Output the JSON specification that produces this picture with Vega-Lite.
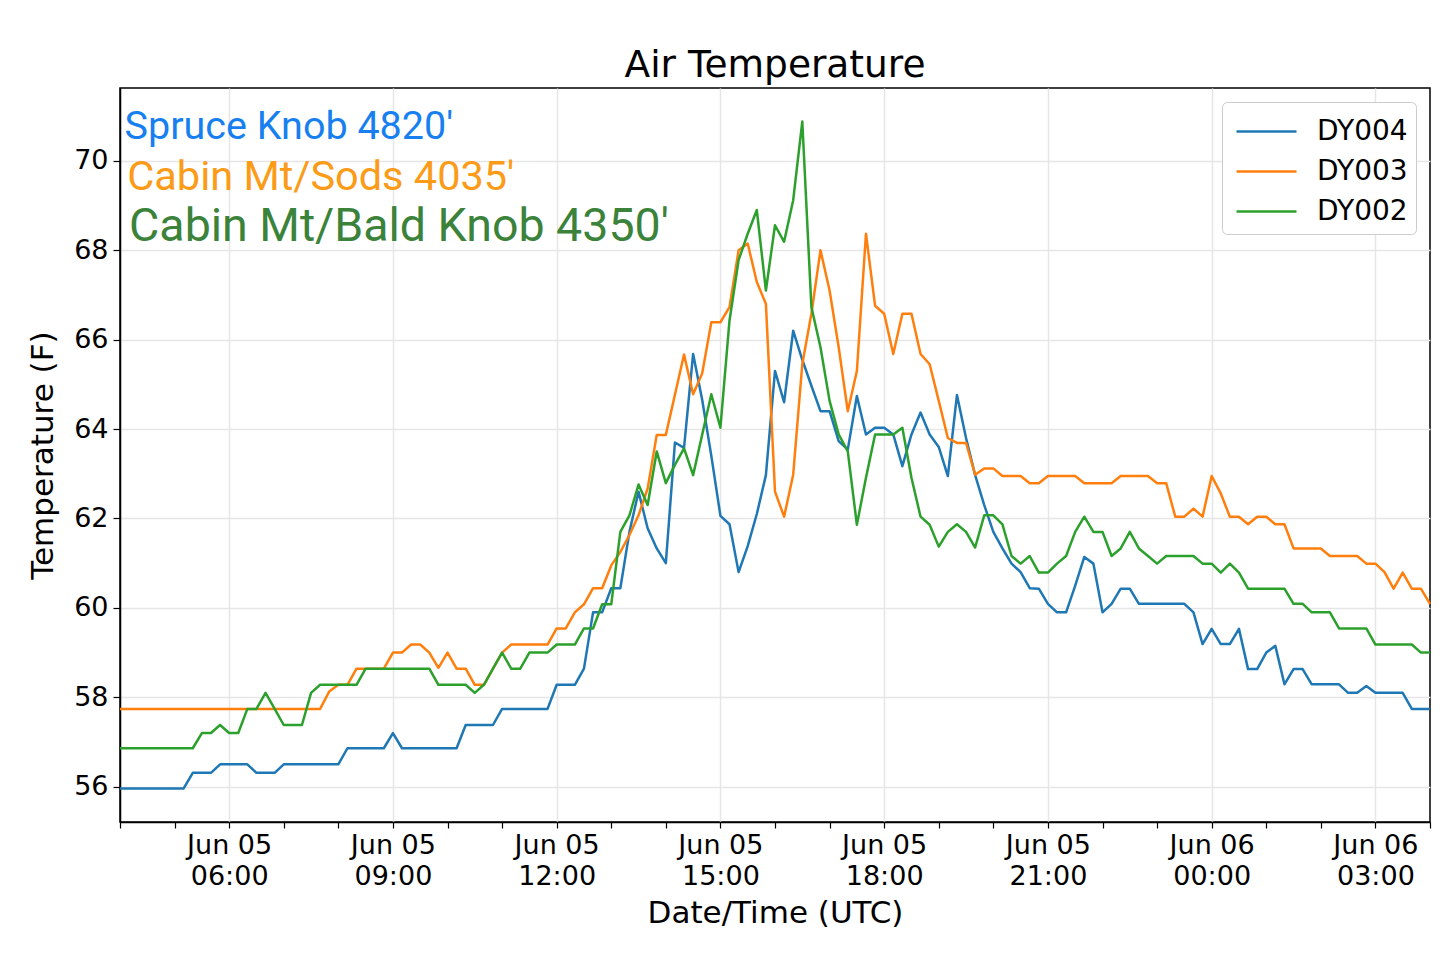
{
  "$schema": "https://vega.github.io/schema/vega-lite/v6.json",
  "description": "Air temperature at three loggers, 10-minute readings, Jun 05-06 (UTC).",
  "width": 1310,
  "height": 734,
  "autosize": {"type": "none"},
  "padding": {"left": 120, "top": 88, "right": 10, "bottom": 133},
  "background": "white",
  "title": {
    "text": "Air Temperature",
    "font": "DejaVu Sans",
    "fontSize": 37.5,
    "fontWeight": "normal",
    "color": "black",
    "anchor": "middle",
    "offset": 4
  },
  "config": {
    "view": {"stroke": "black", "strokeWidth": 1.5},
    "axis": {
      "labelFont": "DejaVu Sans",
      "titleFont": "DejaVu Sans",
      "labelColor": "black",
      "titleColor": "black",
      "titleFontWeight": "normal",
      "domainColor": "black",
      "domainWidth": 1.5,
      "tickColor": "black",
      "tickWidth": 1.2,
      "gridColor": "#e6e6e6",
      "gridWidth": 1.5
    },
    "legend": {"labelFont": "DejaVu Sans"}
  },
  "datasets": {
    "readings": [
      {"time":"2019-06-05T04:00Z","logger":"DY004","temp":55.96},{"time":"2019-06-05T04:10Z","logger":"DY004","temp":55.96},{"time":"2019-06-05T04:20Z","logger":"DY004","temp":55.96},{"time":"2019-06-05T04:30Z","logger":"DY004","temp":55.96},{"time":"2019-06-05T04:40Z","logger":"DY004","temp":55.96},{"time":"2019-06-05T04:50Z","logger":"DY004","temp":55.96},
      {"time":"2019-06-05T05:00Z","logger":"DY004","temp":55.96},{"time":"2019-06-05T05:10Z","logger":"DY004","temp":55.96},{"time":"2019-06-05T05:20Z","logger":"DY004","temp":56.31},{"time":"2019-06-05T05:30Z","logger":"DY004","temp":56.31},{"time":"2019-06-05T05:40Z","logger":"DY004","temp":56.31},{"time":"2019-06-05T05:50Z","logger":"DY004","temp":56.5},
      {"time":"2019-06-05T06:00Z","logger":"DY004","temp":56.5},{"time":"2019-06-05T06:10Z","logger":"DY004","temp":56.5},{"time":"2019-06-05T06:20Z","logger":"DY004","temp":56.5},{"time":"2019-06-05T06:30Z","logger":"DY004","temp":56.31},{"time":"2019-06-05T06:40Z","logger":"DY004","temp":56.31},{"time":"2019-06-05T06:50Z","logger":"DY004","temp":56.31},
      {"time":"2019-06-05T07:00Z","logger":"DY004","temp":56.5},{"time":"2019-06-05T07:10Z","logger":"DY004","temp":56.5},{"time":"2019-06-05T07:20Z","logger":"DY004","temp":56.5},{"time":"2019-06-05T07:30Z","logger":"DY004","temp":56.5},{"time":"2019-06-05T07:40Z","logger":"DY004","temp":56.5},{"time":"2019-06-05T07:50Z","logger":"DY004","temp":56.5},
      {"time":"2019-06-05T08:00Z","logger":"DY004","temp":56.5},{"time":"2019-06-05T08:10Z","logger":"DY004","temp":56.86},{"time":"2019-06-05T08:20Z","logger":"DY004","temp":56.86},{"time":"2019-06-05T08:30Z","logger":"DY004","temp":56.86},{"time":"2019-06-05T08:40Z","logger":"DY004","temp":56.86},{"time":"2019-06-05T08:50Z","logger":"DY004","temp":56.86},
      {"time":"2019-06-05T09:00Z","logger":"DY004","temp":57.2},{"time":"2019-06-05T09:10Z","logger":"DY004","temp":56.86},{"time":"2019-06-05T09:20Z","logger":"DY004","temp":56.86},{"time":"2019-06-05T09:30Z","logger":"DY004","temp":56.86},{"time":"2019-06-05T09:40Z","logger":"DY004","temp":56.86},{"time":"2019-06-05T09:50Z","logger":"DY004","temp":56.86},
      {"time":"2019-06-05T10:00Z","logger":"DY004","temp":56.86},{"time":"2019-06-05T10:10Z","logger":"DY004","temp":56.86},{"time":"2019-06-05T10:20Z","logger":"DY004","temp":57.38},{"time":"2019-06-05T10:30Z","logger":"DY004","temp":57.38},{"time":"2019-06-05T10:40Z","logger":"DY004","temp":57.38},{"time":"2019-06-05T10:50Z","logger":"DY004","temp":57.38},
      {"time":"2019-06-05T11:00Z","logger":"DY004","temp":57.74},{"time":"2019-06-05T11:10Z","logger":"DY004","temp":57.74},{"time":"2019-06-05T11:20Z","logger":"DY004","temp":57.74},{"time":"2019-06-05T11:30Z","logger":"DY004","temp":57.74},{"time":"2019-06-05T11:40Z","logger":"DY004","temp":57.74},{"time":"2019-06-05T11:50Z","logger":"DY004","temp":57.74},
      {"time":"2019-06-05T12:00Z","logger":"DY004","temp":58.28},{"time":"2019-06-05T12:10Z","logger":"DY004","temp":58.28},{"time":"2019-06-05T12:20Z","logger":"DY004","temp":58.28},{"time":"2019-06-05T12:30Z","logger":"DY004","temp":58.64},{"time":"2019-06-05T12:40Z","logger":"DY004","temp":59.9},{"time":"2019-06-05T12:50Z","logger":"DY004","temp":59.9},
      {"time":"2019-06-05T13:00Z","logger":"DY004","temp":60.44},{"time":"2019-06-05T13:10Z","logger":"DY004","temp":60.44},{"time":"2019-06-05T13:20Z","logger":"DY004","temp":61.7},{"time":"2019-06-05T13:30Z","logger":"DY004","temp":62.6},{"time":"2019-06-05T13:40Z","logger":"DY004","temp":61.78},{"time":"2019-06-05T13:50Z","logger":"DY004","temp":61.33},
      {"time":"2019-06-05T14:00Z","logger":"DY004","temp":61.0},{"time":"2019-06-05T14:10Z","logger":"DY004","temp":63.7},{"time":"2019-06-05T14:20Z","logger":"DY004","temp":63.58},{"time":"2019-06-05T14:30Z","logger":"DY004","temp":65.68},{"time":"2019-06-05T14:40Z","logger":"DY004","temp":64.65},{"time":"2019-06-05T14:50Z","logger":"DY004","temp":63.4},
      {"time":"2019-06-05T15:00Z","logger":"DY004","temp":62.06},{"time":"2019-06-05T15:10Z","logger":"DY004","temp":61.87},{"time":"2019-06-05T15:20Z","logger":"DY004","temp":60.8},{"time":"2019-06-05T15:30Z","logger":"DY004","temp":61.38},{"time":"2019-06-05T15:40Z","logger":"DY004","temp":62.1},{"time":"2019-06-05T15:50Z","logger":"DY004","temp":62.97},
      {"time":"2019-06-05T16:00Z","logger":"DY004","temp":65.3},{"time":"2019-06-05T16:10Z","logger":"DY004","temp":64.6},{"time":"2019-06-05T16:20Z","logger":"DY004","temp":66.2},{"time":"2019-06-05T16:30Z","logger":"DY004","temp":65.55},{"time":"2019-06-05T16:40Z","logger":"DY004","temp":64.97},{"time":"2019-06-05T16:50Z","logger":"DY004","temp":64.4},
      {"time":"2019-06-05T17:00Z","logger":"DY004","temp":64.4},{"time":"2019-06-05T17:10Z","logger":"DY004","temp":63.73},{"time":"2019-06-05T17:20Z","logger":"DY004","temp":63.54},{"time":"2019-06-05T17:30Z","logger":"DY004","temp":64.74},{"time":"2019-06-05T17:40Z","logger":"DY004","temp":63.88},{"time":"2019-06-05T17:50Z","logger":"DY004","temp":64.03},
      {"time":"2019-06-05T18:00Z","logger":"DY004","temp":64.03},{"time":"2019-06-05T18:10Z","logger":"DY004","temp":63.88},{"time":"2019-06-05T18:20Z","logger":"DY004","temp":63.17},{"time":"2019-06-05T18:30Z","logger":"DY004","temp":63.88},{"time":"2019-06-05T18:40Z","logger":"DY004","temp":64.37},{"time":"2019-06-05T18:50Z","logger":"DY004","temp":63.88},
      {"time":"2019-06-05T19:00Z","logger":"DY004","temp":63.6},{"time":"2019-06-05T19:10Z","logger":"DY004","temp":62.95},{"time":"2019-06-05T19:20Z","logger":"DY004","temp":64.76},{"time":"2019-06-05T19:30Z","logger":"DY004","temp":63.8},{"time":"2019-06-05T19:40Z","logger":"DY004","temp":62.97},{"time":"2019-06-05T19:50Z","logger":"DY004","temp":62.3},
      {"time":"2019-06-05T20:00Z","logger":"DY004","temp":61.7},{"time":"2019-06-05T20:10Z","logger":"DY004","temp":61.33},{"time":"2019-06-05T20:20Z","logger":"DY004","temp":60.99},{"time":"2019-06-05T20:30Z","logger":"DY004","temp":60.8},{"time":"2019-06-05T20:40Z","logger":"DY004","temp":60.44},{"time":"2019-06-05T20:50Z","logger":"DY004","temp":60.43},
      {"time":"2019-06-05T21:00Z","logger":"DY004","temp":60.09},{"time":"2019-06-05T21:10Z","logger":"DY004","temp":59.9},{"time":"2019-06-05T21:20Z","logger":"DY004","temp":59.9},{"time":"2019-06-05T21:30Z","logger":"DY004","temp":60.5},{"time":"2019-06-05T21:40Z","logger":"DY004","temp":61.14},{"time":"2019-06-05T21:50Z","logger":"DY004","temp":60.99},
      {"time":"2019-06-05T22:00Z","logger":"DY004","temp":59.9},{"time":"2019-06-05T22:10Z","logger":"DY004","temp":60.09},{"time":"2019-06-05T22:20Z","logger":"DY004","temp":60.43},{"time":"2019-06-05T22:30Z","logger":"DY004","temp":60.43},{"time":"2019-06-05T22:40Z","logger":"DY004","temp":60.09},{"time":"2019-06-05T22:50Z","logger":"DY004","temp":60.09},
      {"time":"2019-06-05T23:00Z","logger":"DY004","temp":60.09},{"time":"2019-06-05T23:10Z","logger":"DY004","temp":60.09},{"time":"2019-06-05T23:20Z","logger":"DY004","temp":60.09},{"time":"2019-06-05T23:30Z","logger":"DY004","temp":60.09},{"time":"2019-06-05T23:40Z","logger":"DY004","temp":59.9},{"time":"2019-06-05T23:50Z","logger":"DY004","temp":59.19},
      {"time":"2019-06-06T00:00Z","logger":"DY004","temp":59.53},{"time":"2019-06-06T00:10Z","logger":"DY004","temp":59.19},{"time":"2019-06-06T00:20Z","logger":"DY004","temp":59.19},{"time":"2019-06-06T00:30Z","logger":"DY004","temp":59.53},{"time":"2019-06-06T00:40Z","logger":"DY004","temp":58.63},{"time":"2019-06-06T00:50Z","logger":"DY004","temp":58.63},
      {"time":"2019-06-06T01:00Z","logger":"DY004","temp":59.0},{"time":"2019-06-06T01:10Z","logger":"DY004","temp":59.15},{"time":"2019-06-06T01:20Z","logger":"DY004","temp":58.29},{"time":"2019-06-06T01:30Z","logger":"DY004","temp":58.63},{"time":"2019-06-06T01:40Z","logger":"DY004","temp":58.63},{"time":"2019-06-06T01:50Z","logger":"DY004","temp":58.29},
      {"time":"2019-06-06T02:00Z","logger":"DY004","temp":58.29},{"time":"2019-06-06T02:10Z","logger":"DY004","temp":58.29},{"time":"2019-06-06T02:20Z","logger":"DY004","temp":58.29},{"time":"2019-06-06T02:30Z","logger":"DY004","temp":58.1},{"time":"2019-06-06T02:40Z","logger":"DY004","temp":58.1},{"time":"2019-06-06T02:50Z","logger":"DY004","temp":58.25},
      {"time":"2019-06-06T03:00Z","logger":"DY004","temp":58.1},{"time":"2019-06-06T03:10Z","logger":"DY004","temp":58.1},{"time":"2019-06-06T03:20Z","logger":"DY004","temp":58.1},{"time":"2019-06-06T03:30Z","logger":"DY004","temp":58.1},{"time":"2019-06-06T03:40Z","logger":"DY004","temp":57.74},{"time":"2019-06-06T03:50Z","logger":"DY004","temp":57.74},
      {"time":"2019-06-06T04:00Z","logger":"DY004","temp":57.74},

      {"time":"2019-06-05T04:00Z","logger":"DY003","temp":57.74},{"time":"2019-06-05T04:10Z","logger":"DY003","temp":57.74},{"time":"2019-06-05T04:20Z","logger":"DY003","temp":57.74},{"time":"2019-06-05T04:30Z","logger":"DY003","temp":57.74},{"time":"2019-06-05T04:40Z","logger":"DY003","temp":57.74},{"time":"2019-06-05T04:50Z","logger":"DY003","temp":57.74},
      {"time":"2019-06-05T05:00Z","logger":"DY003","temp":57.74},{"time":"2019-06-05T05:10Z","logger":"DY003","temp":57.74},{"time":"2019-06-05T05:20Z","logger":"DY003","temp":57.74},{"time":"2019-06-05T05:30Z","logger":"DY003","temp":57.74},{"time":"2019-06-05T05:40Z","logger":"DY003","temp":57.74},{"time":"2019-06-05T05:50Z","logger":"DY003","temp":57.74},
      {"time":"2019-06-05T06:00Z","logger":"DY003","temp":57.74},{"time":"2019-06-05T06:10Z","logger":"DY003","temp":57.74},{"time":"2019-06-05T06:20Z","logger":"DY003","temp":57.74},{"time":"2019-06-05T06:30Z","logger":"DY003","temp":57.74},{"time":"2019-06-05T06:40Z","logger":"DY003","temp":57.74},{"time":"2019-06-05T06:50Z","logger":"DY003","temp":57.74},
      {"time":"2019-06-05T07:00Z","logger":"DY003","temp":57.74},{"time":"2019-06-05T07:10Z","logger":"DY003","temp":57.74},{"time":"2019-06-05T07:20Z","logger":"DY003","temp":57.74},{"time":"2019-06-05T07:30Z","logger":"DY003","temp":57.74},{"time":"2019-06-05T07:40Z","logger":"DY003","temp":57.74},{"time":"2019-06-05T07:50Z","logger":"DY003","temp":58.13},
      {"time":"2019-06-05T08:00Z","logger":"DY003","temp":58.28},{"time":"2019-06-05T08:10Z","logger":"DY003","temp":58.28},{"time":"2019-06-05T08:20Z","logger":"DY003","temp":58.64},{"time":"2019-06-05T08:30Z","logger":"DY003","temp":58.64},{"time":"2019-06-05T08:40Z","logger":"DY003","temp":58.64},{"time":"2019-06-05T08:50Z","logger":"DY003","temp":58.64},
      {"time":"2019-06-05T09:00Z","logger":"DY003","temp":59.0},{"time":"2019-06-05T09:10Z","logger":"DY003","temp":59.0},{"time":"2019-06-05T09:20Z","logger":"DY003","temp":59.18},{"time":"2019-06-05T09:30Z","logger":"DY003","temp":59.18},{"time":"2019-06-05T09:40Z","logger":"DY003","temp":59.0},{"time":"2019-06-05T09:50Z","logger":"DY003","temp":58.66},
      {"time":"2019-06-05T10:00Z","logger":"DY003","temp":59.0},{"time":"2019-06-05T10:10Z","logger":"DY003","temp":58.64},{"time":"2019-06-05T10:20Z","logger":"DY003","temp":58.64},{"time":"2019-06-05T10:30Z","logger":"DY003","temp":58.28},{"time":"2019-06-05T10:40Z","logger":"DY003","temp":58.28},{"time":"2019-06-05T10:50Z","logger":"DY003","temp":58.64},
      {"time":"2019-06-05T11:00Z","logger":"DY003","temp":59.0},{"time":"2019-06-05T11:10Z","logger":"DY003","temp":59.18},{"time":"2019-06-05T11:20Z","logger":"DY003","temp":59.18},{"time":"2019-06-05T11:30Z","logger":"DY003","temp":59.18},{"time":"2019-06-05T11:40Z","logger":"DY003","temp":59.18},{"time":"2019-06-05T11:50Z","logger":"DY003","temp":59.18},
      {"time":"2019-06-05T12:00Z","logger":"DY003","temp":59.54},{"time":"2019-06-05T12:10Z","logger":"DY003","temp":59.54},{"time":"2019-06-05T12:20Z","logger":"DY003","temp":59.9},{"time":"2019-06-05T12:30Z","logger":"DY003","temp":60.08},{"time":"2019-06-05T12:40Z","logger":"DY003","temp":60.44},{"time":"2019-06-05T12:50Z","logger":"DY003","temp":60.44},
      {"time":"2019-06-05T13:00Z","logger":"DY003","temp":60.95},{"time":"2019-06-05T13:10Z","logger":"DY003","temp":61.25},{"time":"2019-06-05T13:20Z","logger":"DY003","temp":61.63},{"time":"2019-06-05T13:30Z","logger":"DY003","temp":62.07},{"time":"2019-06-05T13:40Z","logger":"DY003","temp":62.67},{"time":"2019-06-05T13:50Z","logger":"DY003","temp":63.87},
      {"time":"2019-06-05T14:00Z","logger":"DY003","temp":63.87},{"time":"2019-06-05T14:10Z","logger":"DY003","temp":64.77},{"time":"2019-06-05T14:20Z","logger":"DY003","temp":65.67},{"time":"2019-06-05T14:30Z","logger":"DY003","temp":64.78},{"time":"2019-06-05T14:40Z","logger":"DY003","temp":65.25},{"time":"2019-06-05T14:50Z","logger":"DY003","temp":66.39},
      {"time":"2019-06-05T15:00Z","logger":"DY003","temp":66.39},{"time":"2019-06-05T15:10Z","logger":"DY003","temp":66.73},{"time":"2019-06-05T15:20Z","logger":"DY003","temp":68.0},{"time":"2019-06-05T15:30Z","logger":"DY003","temp":68.15},{"time":"2019-06-05T15:40Z","logger":"DY003","temp":67.29},{"time":"2019-06-05T15:50Z","logger":"DY003","temp":66.8},
      {"time":"2019-06-05T16:00Z","logger":"DY003","temp":62.6},{"time":"2019-06-05T16:10Z","logger":"DY003","temp":62.04},{"time":"2019-06-05T16:20Z","logger":"DY003","temp":62.98},{"time":"2019-06-05T16:30Z","logger":"DY003","temp":65.45},{"time":"2019-06-05T16:40Z","logger":"DY003","temp":66.58},{"time":"2019-06-05T16:50Z","logger":"DY003","temp":68.0},
      {"time":"2019-06-05T17:00Z","logger":"DY003","temp":67.1},{"time":"2019-06-05T17:10Z","logger":"DY003","temp":65.83},{"time":"2019-06-05T17:20Z","logger":"DY003","temp":64.4},{"time":"2019-06-05T17:30Z","logger":"DY003","temp":65.3},{"time":"2019-06-05T17:40Z","logger":"DY003","temp":68.37},{"time":"2019-06-05T17:50Z","logger":"DY003","temp":66.76},
      {"time":"2019-06-05T18:00Z","logger":"DY003","temp":66.58},{"time":"2019-06-05T18:10Z","logger":"DY003","temp":65.68},{"time":"2019-06-05T18:20Z","logger":"DY003","temp":66.58},{"time":"2019-06-05T18:30Z","logger":"DY003","temp":66.58},{"time":"2019-06-05T18:40Z","logger":"DY003","temp":65.68},{"time":"2019-06-05T18:50Z","logger":"DY003","temp":65.45},
      {"time":"2019-06-05T19:00Z","logger":"DY003","temp":64.63},{"time":"2019-06-05T19:10Z","logger":"DY003","temp":63.8},{"time":"2019-06-05T19:20Z","logger":"DY003","temp":63.69},{"time":"2019-06-05T19:30Z","logger":"DY003","temp":63.69},{"time":"2019-06-05T19:40Z","logger":"DY003","temp":62.98},{"time":"2019-06-05T19:50Z","logger":"DY003","temp":63.12},
      {"time":"2019-06-05T20:00Z","logger":"DY003","temp":63.12},{"time":"2019-06-05T20:10Z","logger":"DY003","temp":62.95},{"time":"2019-06-05T20:20Z","logger":"DY003","temp":62.95},{"time":"2019-06-05T20:30Z","logger":"DY003","temp":62.95},{"time":"2019-06-05T20:40Z","logger":"DY003","temp":62.79},{"time":"2019-06-05T20:50Z","logger":"DY003","temp":62.79},
      {"time":"2019-06-05T21:00Z","logger":"DY003","temp":62.95},{"time":"2019-06-05T21:10Z","logger":"DY003","temp":62.95},{"time":"2019-06-05T21:20Z","logger":"DY003","temp":62.95},{"time":"2019-06-05T21:30Z","logger":"DY003","temp":62.95},{"time":"2019-06-05T21:40Z","logger":"DY003","temp":62.79},{"time":"2019-06-05T21:50Z","logger":"DY003","temp":62.79},
      {"time":"2019-06-05T22:00Z","logger":"DY003","temp":62.79},{"time":"2019-06-05T22:10Z","logger":"DY003","temp":62.79},{"time":"2019-06-05T22:20Z","logger":"DY003","temp":62.95},{"time":"2019-06-05T22:30Z","logger":"DY003","temp":62.95},{"time":"2019-06-05T22:40Z","logger":"DY003","temp":62.95},{"time":"2019-06-05T22:50Z","logger":"DY003","temp":62.95},
      {"time":"2019-06-05T23:00Z","logger":"DY003","temp":62.79},{"time":"2019-06-05T23:10Z","logger":"DY003","temp":62.79},{"time":"2019-06-05T23:20Z","logger":"DY003","temp":62.04},{"time":"2019-06-05T23:30Z","logger":"DY003","temp":62.04},{"time":"2019-06-05T23:40Z","logger":"DY003","temp":62.22},{"time":"2019-06-05T23:50Z","logger":"DY003","temp":62.04},
      {"time":"2019-06-06T00:00Z","logger":"DY003","temp":62.95},{"time":"2019-06-06T00:10Z","logger":"DY003","temp":62.56},{"time":"2019-06-06T00:20Z","logger":"DY003","temp":62.04},{"time":"2019-06-06T00:30Z","logger":"DY003","temp":62.04},{"time":"2019-06-06T00:40Z","logger":"DY003","temp":61.87},{"time":"2019-06-06T00:50Z","logger":"DY003","temp":62.04},
      {"time":"2019-06-06T01:00Z","logger":"DY003","temp":62.04},{"time":"2019-06-06T01:10Z","logger":"DY003","temp":61.87},{"time":"2019-06-06T01:20Z","logger":"DY003","temp":61.87},{"time":"2019-06-06T01:30Z","logger":"DY003","temp":61.33},{"time":"2019-06-06T01:40Z","logger":"DY003","temp":61.33},{"time":"2019-06-06T01:50Z","logger":"DY003","temp":61.33},
      {"time":"2019-06-06T02:00Z","logger":"DY003","temp":61.33},{"time":"2019-06-06T02:10Z","logger":"DY003","temp":61.16},{"time":"2019-06-06T02:20Z","logger":"DY003","temp":61.16},{"time":"2019-06-06T02:30Z","logger":"DY003","temp":61.16},{"time":"2019-06-06T02:40Z","logger":"DY003","temp":61.16},{"time":"2019-06-06T02:50Z","logger":"DY003","temp":60.99},
      {"time":"2019-06-06T03:00Z","logger":"DY003","temp":60.99},{"time":"2019-06-06T03:10Z","logger":"DY003","temp":60.8},{"time":"2019-06-06T03:20Z","logger":"DY003","temp":60.43},{"time":"2019-06-06T03:30Z","logger":"DY003","temp":60.79},{"time":"2019-06-06T03:40Z","logger":"DY003","temp":60.43},{"time":"2019-06-06T03:50Z","logger":"DY003","temp":60.43},
      {"time":"2019-06-06T04:00Z","logger":"DY003","temp":60.09},

      {"time":"2019-06-05T04:00Z","logger":"DY002","temp":56.86},{"time":"2019-06-05T04:10Z","logger":"DY002","temp":56.86},{"time":"2019-06-05T04:20Z","logger":"DY002","temp":56.86},{"time":"2019-06-05T04:30Z","logger":"DY002","temp":56.86},{"time":"2019-06-05T04:40Z","logger":"DY002","temp":56.86},{"time":"2019-06-05T04:50Z","logger":"DY002","temp":56.86},
      {"time":"2019-06-05T05:00Z","logger":"DY002","temp":56.86},{"time":"2019-06-05T05:10Z","logger":"DY002","temp":56.86},{"time":"2019-06-05T05:20Z","logger":"DY002","temp":56.86},{"time":"2019-06-05T05:30Z","logger":"DY002","temp":57.2},{"time":"2019-06-05T05:40Z","logger":"DY002","temp":57.2},{"time":"2019-06-05T05:50Z","logger":"DY002","temp":57.38},
      {"time":"2019-06-05T06:00Z","logger":"DY002","temp":57.2},{"time":"2019-06-05T06:10Z","logger":"DY002","temp":57.2},{"time":"2019-06-05T06:20Z","logger":"DY002","temp":57.74},{"time":"2019-06-05T06:30Z","logger":"DY002","temp":57.74},{"time":"2019-06-05T06:40Z","logger":"DY002","temp":58.1},{"time":"2019-06-05T06:50Z","logger":"DY002","temp":57.74},
      {"time":"2019-06-05T07:00Z","logger":"DY002","temp":57.38},{"time":"2019-06-05T07:10Z","logger":"DY002","temp":57.38},{"time":"2019-06-05T07:20Z","logger":"DY002","temp":57.38},{"time":"2019-06-05T07:30Z","logger":"DY002","temp":58.1},{"time":"2019-06-05T07:40Z","logger":"DY002","temp":58.28},{"time":"2019-06-05T07:50Z","logger":"DY002","temp":58.28},
      {"time":"2019-06-05T08:00Z","logger":"DY002","temp":58.28},{"time":"2019-06-05T08:10Z","logger":"DY002","temp":58.28},{"time":"2019-06-05T08:20Z","logger":"DY002","temp":58.28},{"time":"2019-06-05T08:30Z","logger":"DY002","temp":58.64},{"time":"2019-06-05T08:40Z","logger":"DY002","temp":58.64},{"time":"2019-06-05T08:50Z","logger":"DY002","temp":58.64},
      {"time":"2019-06-05T09:00Z","logger":"DY002","temp":58.64},{"time":"2019-06-05T09:10Z","logger":"DY002","temp":58.64},{"time":"2019-06-05T09:20Z","logger":"DY002","temp":58.64},{"time":"2019-06-05T09:30Z","logger":"DY002","temp":58.64},{"time":"2019-06-05T09:40Z","logger":"DY002","temp":58.64},{"time":"2019-06-05T09:50Z","logger":"DY002","temp":58.28},
      {"time":"2019-06-05T10:00Z","logger":"DY002","temp":58.28},{"time":"2019-06-05T10:10Z","logger":"DY002","temp":58.28},{"time":"2019-06-05T10:20Z","logger":"DY002","temp":58.28},{"time":"2019-06-05T10:30Z","logger":"DY002","temp":58.1},{"time":"2019-06-05T10:40Z","logger":"DY002","temp":58.28},{"time":"2019-06-05T10:50Z","logger":"DY002","temp":58.64},
      {"time":"2019-06-05T11:00Z","logger":"DY002","temp":59.0},{"time":"2019-06-05T11:10Z","logger":"DY002","temp":58.64},{"time":"2019-06-05T11:20Z","logger":"DY002","temp":58.64},{"time":"2019-06-05T11:30Z","logger":"DY002","temp":59.0},{"time":"2019-06-05T11:40Z","logger":"DY002","temp":59.0},{"time":"2019-06-05T11:50Z","logger":"DY002","temp":59.0},
      {"time":"2019-06-05T12:00Z","logger":"DY002","temp":59.18},{"time":"2019-06-05T12:10Z","logger":"DY002","temp":59.18},{"time":"2019-06-05T12:20Z","logger":"DY002","temp":59.18},{"time":"2019-06-05T12:30Z","logger":"DY002","temp":59.54},{"time":"2019-06-05T12:40Z","logger":"DY002","temp":59.54},{"time":"2019-06-05T12:50Z","logger":"DY002","temp":60.08},
      {"time":"2019-06-05T13:00Z","logger":"DY002","temp":60.08},{"time":"2019-06-05T13:10Z","logger":"DY002","temp":61.7},{"time":"2019-06-05T13:20Z","logger":"DY002","temp":62.07},{"time":"2019-06-05T13:30Z","logger":"DY002","temp":62.76},{"time":"2019-06-05T13:40Z","logger":"DY002","temp":62.3},{"time":"2019-06-05T13:50Z","logger":"DY002","temp":63.5},
      {"time":"2019-06-05T14:00Z","logger":"DY002","temp":62.79},{"time":"2019-06-05T14:10Z","logger":"DY002","temp":63.2},{"time":"2019-06-05T14:20Z","logger":"DY002","temp":63.57},{"time":"2019-06-05T14:30Z","logger":"DY002","temp":62.97},{"time":"2019-06-05T14:40Z","logger":"DY002","temp":63.88},{"time":"2019-06-05T14:50Z","logger":"DY002","temp":64.78},
      {"time":"2019-06-05T15:00Z","logger":"DY002","temp":64.03},{"time":"2019-06-05T15:10Z","logger":"DY002","temp":66.43},{"time":"2019-06-05T15:20Z","logger":"DY002","temp":67.78},{"time":"2019-06-05T15:30Z","logger":"DY002","temp":68.37},{"time":"2019-06-05T15:40Z","logger":"DY002","temp":68.9},{"time":"2019-06-05T15:50Z","logger":"DY002","temp":67.1},
      {"time":"2019-06-05T16:00Z","logger":"DY002","temp":68.56},{"time":"2019-06-05T16:10Z","logger":"DY002","temp":68.19},{"time":"2019-06-05T16:20Z","logger":"DY002","temp":69.12},{"time":"2019-06-05T16:30Z","logger":"DY002","temp":70.88},{"time":"2019-06-05T16:40Z","logger":"DY002","temp":66.73},{"time":"2019-06-05T16:50Z","logger":"DY002","temp":65.83},
      {"time":"2019-06-05T17:00Z","logger":"DY002","temp":64.63},{"time":"2019-06-05T17:10Z","logger":"DY002","temp":63.88},{"time":"2019-06-05T17:20Z","logger":"DY002","temp":63.5},{"time":"2019-06-05T17:30Z","logger":"DY002","temp":61.86},{"time":"2019-06-05T17:40Z","logger":"DY002","temp":62.91},{"time":"2019-06-05T17:50Z","logger":"DY002","temp":63.88},
      {"time":"2019-06-05T18:00Z","logger":"DY002","temp":63.88},{"time":"2019-06-05T18:10Z","logger":"DY002","temp":63.88},{"time":"2019-06-05T18:20Z","logger":"DY002","temp":64.03},{"time":"2019-06-05T18:30Z","logger":"DY002","temp":62.91},{"time":"2019-06-05T18:40Z","logger":"DY002","temp":62.04},{"time":"2019-06-05T18:50Z","logger":"DY002","temp":61.86},
      {"time":"2019-06-05T19:00Z","logger":"DY002","temp":61.37},{"time":"2019-06-05T19:10Z","logger":"DY002","temp":61.7},{"time":"2019-06-05T19:20Z","logger":"DY002","temp":61.87},{"time":"2019-06-05T19:30Z","logger":"DY002","temp":61.7},{"time":"2019-06-05T19:40Z","logger":"DY002","temp":61.35},{"time":"2019-06-05T19:50Z","logger":"DY002","temp":62.07},
      {"time":"2019-06-05T20:00Z","logger":"DY002","temp":62.07},{"time":"2019-06-05T20:10Z","logger":"DY002","temp":61.87},{"time":"2019-06-05T20:20Z","logger":"DY002","temp":61.16},{"time":"2019-06-05T20:30Z","logger":"DY002","temp":60.99},{"time":"2019-06-05T20:40Z","logger":"DY002","temp":61.16},{"time":"2019-06-05T20:50Z","logger":"DY002","temp":60.79},
      {"time":"2019-06-05T21:00Z","logger":"DY002","temp":60.79},{"time":"2019-06-05T21:10Z","logger":"DY002","temp":60.99},{"time":"2019-06-05T21:20Z","logger":"DY002","temp":61.16},{"time":"2019-06-05T21:30Z","logger":"DY002","temp":61.7},{"time":"2019-06-05T21:40Z","logger":"DY002","temp":62.04},{"time":"2019-06-05T21:50Z","logger":"DY002","temp":61.7},
      {"time":"2019-06-05T22:00Z","logger":"DY002","temp":61.7},{"time":"2019-06-05T22:10Z","logger":"DY002","temp":61.16},{"time":"2019-06-05T22:20Z","logger":"DY002","temp":61.33},{"time":"2019-06-05T22:30Z","logger":"DY002","temp":61.7},{"time":"2019-06-05T22:40Z","logger":"DY002","temp":61.33},{"time":"2019-06-05T22:50Z","logger":"DY002","temp":61.16},
      {"time":"2019-06-05T23:00Z","logger":"DY002","temp":60.99},{"time":"2019-06-05T23:10Z","logger":"DY002","temp":61.16},{"time":"2019-06-05T23:20Z","logger":"DY002","temp":61.16},{"time":"2019-06-05T23:30Z","logger":"DY002","temp":61.16},{"time":"2019-06-05T23:40Z","logger":"DY002","temp":61.16},{"time":"2019-06-05T23:50Z","logger":"DY002","temp":60.99},
      {"time":"2019-06-06T00:00Z","logger":"DY002","temp":60.99},{"time":"2019-06-06T00:10Z","logger":"DY002","temp":60.79},{"time":"2019-06-06T00:20Z","logger":"DY002","temp":60.99},{"time":"2019-06-06T00:30Z","logger":"DY002","temp":60.79},{"time":"2019-06-06T00:40Z","logger":"DY002","temp":60.43},{"time":"2019-06-06T00:50Z","logger":"DY002","temp":60.43},
      {"time":"2019-06-06T01:00Z","logger":"DY002","temp":60.43},{"time":"2019-06-06T01:10Z","logger":"DY002","temp":60.43},{"time":"2019-06-06T01:20Z","logger":"DY002","temp":60.43},{"time":"2019-06-06T01:30Z","logger":"DY002","temp":60.09},{"time":"2019-06-06T01:40Z","logger":"DY002","temp":60.09},{"time":"2019-06-06T01:50Z","logger":"DY002","temp":59.9},
      {"time":"2019-06-06T02:00Z","logger":"DY002","temp":59.9},{"time":"2019-06-06T02:10Z","logger":"DY002","temp":59.9},{"time":"2019-06-06T02:20Z","logger":"DY002","temp":59.54},{"time":"2019-06-06T02:30Z","logger":"DY002","temp":59.54},{"time":"2019-06-06T02:40Z","logger":"DY002","temp":59.54},{"time":"2019-06-06T02:50Z","logger":"DY002","temp":59.54},
      {"time":"2019-06-06T03:00Z","logger":"DY002","temp":59.18},{"time":"2019-06-06T03:10Z","logger":"DY002","temp":59.18},{"time":"2019-06-06T03:20Z","logger":"DY002","temp":59.18},{"time":"2019-06-06T03:30Z","logger":"DY002","temp":59.18},{"time":"2019-06-06T03:40Z","logger":"DY002","temp":59.18},{"time":"2019-06-06T03:50Z","logger":"DY002","temp":59.0},
      {"time":"2019-06-06T04:00Z","logger":"DY002","temp":59.0}
    ]
  },
  "layer": [
    {
      "data": {"name": "readings"},
      "mark": {"type": "line", "strokeWidth": 2.5, "strokeJoin": "round"},
      "encoding": {
        "x": {
          "field": "time",
          "type": "temporal",
          "title": "Date/Time (UTC)",
          "scale": {"type": "utc", "domain": [1559707200000, 1559793600000]},
          "axis": {
            "values": [1559707200000, 1559710800000, 1559714400000, 1559718000000, 1559721600000, 1559725200000, 1559728800000, 1559732400000, 1559736000000, 1559739600000, 1559743200000, 1559746800000, 1559750400000, 1559754000000, 1559757600000, 1559761200000, 1559764800000, 1559768400000, 1559772000000, 1559775600000, 1559779200000, 1559782800000, 1559786400000, 1559790000000, 1559793600000],
            "labelExpr": "utchours(datum.value) % 3 == 0 ? [utcFormat(datum.value, '%b %d'), utcFormat(datum.value, '%H:%M')] : ''",
            "labelOverlap": false,
            "labelFlush": false,
            "labelBound": false,
            "labelFontSize": 27,
            "labelLineHeight": 31,
            "labelPadding": 4,
            "tickSize": 6,
            "gridOpacity": {"condition": {"test": "utchours(datum.value) % 3 == 0", "value": 1}, "value": 0},
            "titleFontSize": 31,
            "titlePadding": 9
          }
        },
        "y": {
          "field": "temp",
          "type": "quantitative",
          "title": "Temperature (F)",
          "scale": {"domain": [55.21, 71.63], "nice": false, "zero": false},
          "axis": {
            "values": [56, 58, 60, 62, 64, 66, 68, 70],
            "labelFontSize": 27,
            "labelPadding": 5,
            "tickSize": 7,
            "titleFontSize": 31,
            "titlePadding": 14
          }
        },
        "color": {
          "field": "logger",
          "type": "nominal",
          "scale": {
            "domain": ["DY004", "DY003", "DY002"],
            "range": ["#1f77b4", "#ff7f0e", "#2ca02c"]
          },
          "legend": {
            "title": null,
            "orient": "top-right",
            "offset": 14,
            "fillColor": "white",
            "strokeColor": "#cccccc",
            "cornerRadius": 5,
            "padding": 8,
            "symbolType": "M-0.75,0H2.25",
            "symbolSize": 1600,
            "symbolStrokeWidth": 2.5,
            "labelFontSize": 28,
            "labelColor": "black",
            "labelOffset": 44,
            "rowPadding": 4
          }
        }
      }
    },
    {
      "data": {"values": [{"label": "Spruce Knob 4820'"}]},
      "mark": {"type": "text", "font": "Roboto", "fontSize": 39.5, "color": "#177ff0", "align": "left", "baseline": "alphabetic"},
      "encoding": {
        "x": {"datum": 1559707500000, "type": "temporal", "scale": {"type": "utc"}},
        "y": {"datum": 70.5, "type": "quantitative"},
        "text": {"field": "label"}
      }
    },
    {
      "data": {"values": [{"label": "Cabin Mt/Sods 4035'"}]},
      "mark": {"type": "text", "font": "Roboto", "fontSize": 41.5, "color": "#fb9b17", "align": "left", "baseline": "alphabetic"},
      "encoding": {
        "x": {"datum": 1559707680000, "type": "temporal", "scale": {"type": "utc"}},
        "y": {"datum": 69.35, "type": "quantitative"},
        "text": {"field": "label"}
      }
    },
    {
      "data": {"values": [{"label": "Cabin Mt/Bald Knob 4350'"}]},
      "mark": {"type": "text", "font": "Roboto", "fontSize": 46.5, "color": "#3b823b", "align": "left", "baseline": "alphabetic"},
      "encoding": {
        "x": {"datum": 1559707800000, "type": "temporal", "scale": {"type": "utc"}},
        "y": {"datum": 68.2, "type": "quantitative"},
        "text": {"field": "label"}
      }
    }
  ]
}
